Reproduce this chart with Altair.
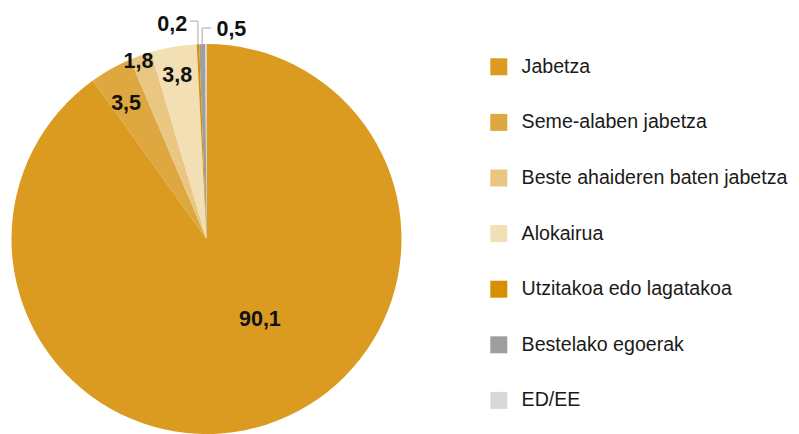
import altair as alt
import pandas as pd

categories = [
    "Jabetza",
    "Seme-alaben jabetza",
    "Beste ahaideren baten jabetza",
    "Alokairua",
    "Utzitakoa edo lagatakoa",
    "Bestelako egoerak",
    "ED/EE",
]
values = [90.1, 3.5, 1.8, 3.8, 0.2, 0.5, 0.1]
value_labels = ["90,1", "3,5", "1,8", "3,8", "0,2", "0,5", ""]
colors = ["#DA9B20", "#DFA73F", "#EAC683", "#F3DFB4", "#D68F00", "#9D9EA0", "#D7D8DA"]

df = pd.DataFrame({
    "cat": categories,
    "value": values,
    "label": value_labels,
    "order": list(range(len(categories))),
})

CX, CY, R = 198.5, 231, 195
FONT = "Liberation Sans"

base = (
    alt.Chart(df)
    .transform_joinaggregate(total="sum(value)")
    .transform_window(cum="sum(value)", sort=[alt.SortField("order")])
    .transform_calculate(mid="datum.cum - datum.value / 2")
)

arcs = alt.Chart(df).mark_arc(radius=R).encode(
    theta=alt.Theta("value:Q", stack=True),
    order=alt.Order("order:Q"),
    color=alt.Color(
        "cat:N",
        scale=alt.Scale(domain=categories, range=colors),
        sort=categories,
        legend=alt.Legend(
            orient="none", legendX=481, legendY=49, title=None,
            symbolType="square", symbolSize=289, symbolStrokeWidth=0,
            symbolOpacity=1, labelFont=FONT, labelFontSize=19.6,
            labelColor="#1a1a1a", labelOffset=13, rowPadding=34.6,
            padding=0, labelLimit=400, direction="vertical",
        ),
    ),
    x=alt.value(CX),
    y=alt.value(CY),
)

# label placement: (radius in px, angular shift in value units)
label_place = {
    "Jabetza": (97, -4.33),
    "Seme-alaben jabetza": (157, -0.41),
    "Beste ahaideren baten jabetza": (190, -0.33),
    "Alokairua": (166, -0.13),
    "Utzitakoa edo lagatakoa": (217, -1.83),
    "Bestelako egoerak": (210, 2.24),
}

layers = [arcs]
for cat, (rad, off) in label_place.items():
    t = (
        base.transform_filter(alt.datum.cat == cat)
        .transform_calculate(pos=f"(datum.mid + ({off}) + datum.total) % datum.total")
        .mark_text(radius=rad, font=FONT, fontSize=21.5, fontWeight="bold", color="#111111")
        .encode(
            theta=alt.Theta("pos:Q", stack=None),
            text="label:N",
            x=alt.value(CX),
            y=alt.value(CY),
        )
    )
    layers.append(t)

# leader lines: (rise in px, horizontal run in px)
leaders = {
    "Utzitakoa edo lagatakoa": (23, -8),
    "Bestelako egoerak": (16, 9),
}
for cat, (up, side) in leaders.items():
    lb = (
        base.transform_filter(alt.datum.cat == cat)
        .transform_calculate(ang="2 * PI * datum.mid / datum.total")
        .transform_calculate(
            lx=f"{CX} + {R} * sin(datum.ang)",
            ly=f"{CY} - {R} * cos(datum.ang)",
        )
        .transform_calculate(ly2=f"datum.ly - {up}", lx2=f"datum.lx + ({side})")
    )
    v = lb.mark_rule(color="#c4c4c4", strokeWidth=1.5).encode(
        x=alt.X("lx:Q", scale=None, axis=None),
        y=alt.Y("ly:Q", scale=None, axis=None),
        y2="ly2:Q",
    )
    h = lb.mark_rule(color="#c4c4c4", strokeWidth=1.5).encode(
        x=alt.X("lx:Q", scale=None, axis=None),
        x2="lx2:Q",
        y=alt.Y("ly2:Q", scale=None, axis=None),
    )
    layers += [v, h]

chart = (
    alt.layer(*layers)
    .properties(width=783, height=426, padding=0, autosize="none")
    .configure_view(stroke=None)
)

chart.save("out.html", embed_options={"renderer": "svg", "actions": False})
